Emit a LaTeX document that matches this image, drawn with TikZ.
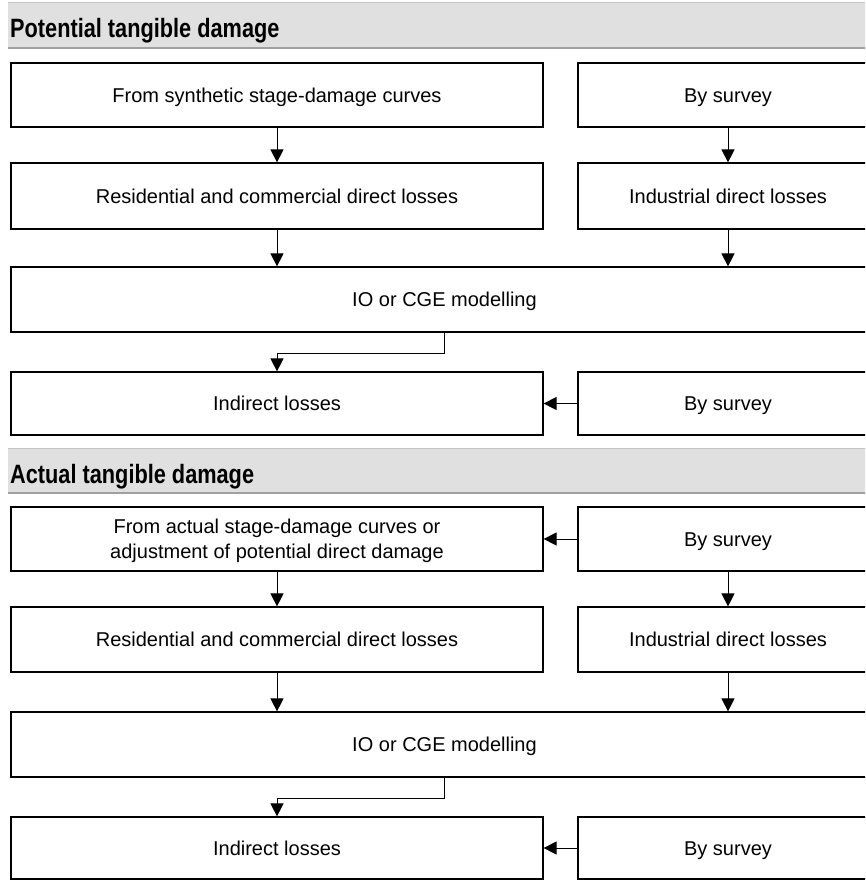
\documentclass[tikz,border=0pt]{standalone}
\usepackage{fontspec}
\setmainfont{Liberation Sans}
\newfontfamily\headfont{Liberation Sans}[FakeStretch=0.82]
\usetikzlibrary{arrows.meta}
\definecolor{bandfill}{HTML}{E0E0E0}
\definecolor{bandtop}{HTML}{C4C4C4}
\definecolor{bandbot}{HTML}{A0A0A0}
\tikzset{
  box/.style={draw=black, line width=1.2pt, rectangle, inner sep=0pt, align=center,
    font=\fontsize{20}{24.5}\selectfont, text height=14.3pt, text depth=0pt},
  lbox/.style={box, minimum width=532pt},
  rbox/.style={box, minimum width=300pt},
  wbox/.style={box, minimum width=867pt},
  conn/.style={line width=1pt, -{Triangle[length=13pt,width=13pt]}},
  head/.style={anchor=base west, inner sep=0pt, font=\headfont\bfseries\fontsize{26.5}{30}\selectfont},
}
\begin{document}
\begin{tikzpicture}[x=1pt,y=-1pt]
\useasboundingbox (0,0) rectangle (865,880);
\clip (0,0) rectangle (865,880);
% section 1 header
\fill[bandfill] (8,3) rectangle (870,48);
\draw[bandtop, line width=1pt] (8,3) -- (870,3);
\draw[bandbot, line width=1.6pt] (8,48) -- (870,48);
\node[head] (h1) at (10,38) {Potential tangible damage};
% section 1 boxes
\node[lbox, minimum height=64pt] (a1) at (277,95) {From synthetic stage-damage curves};
\node[rbox, minimum height=64pt] (b1) at (728,95) {By survey};
\node[lbox, minimum height=66pt] (a2) at (277,196) {Residential and commercial direct losses};
\node[rbox, minimum height=66pt] (b2) at (728,196) {Industrial direct losses};
\node[wbox, minimum height=65pt] (c1) at (444.5,299.5) {IO or CGE modelling};
\node[lbox, minimum height=63pt] (d1) at (277,403.5) {Indirect losses};
\node[rbox, minimum height=63pt] (e1) at (728,403.5) {By survey};
\draw[conn] (a1.south) -- (a2.north);
\draw[conn] (b1.south) -- (b2.north);
\draw[conn] (a2.south) -- (a2.south |- c1.north);
\draw[conn] (b2.south) -- (b2.south |- c1.north);
\draw[conn] (c1.south) -- ++(0,21) -| (d1.north);
\draw[conn] (e1.west) -- (d1.east);
% section 2 header
\fill[bandfill] (8,448) rectangle (870,493);
\draw[bandtop, line width=1pt] (8,448) -- (870,448);
\draw[bandbot, line width=1.6pt] (8,493) -- (870,493);
\node[head] (h2) at (10,483) {Actual tangible damage};
% section 2 boxes
\node[lbox, minimum height=64pt, text height=38.8pt] (a3) at (277,539) {From actual stage-damage curves or\\adjustment of potential direct damage};
\node[rbox, minimum height=64pt] (b3) at (728,539) {By survey};
\node[lbox, minimum height=65pt] (a4) at (277,639.5) {Residential and commercial direct losses};
\node[rbox, minimum height=65pt] (b4) at (728,639.5) {Industrial direct losses};
\node[wbox, minimum height=65pt] (c2) at (444.5,744.5) {IO or CGE modelling};
\node[lbox, minimum height=62pt] (d2) at (277,848) {Indirect losses};
\node[rbox, minimum height=62pt] (e2) at (728,848) {By survey};
\draw[conn] (b3.west) -- (a3.east);
\draw[conn] (a3.south) -- (a4.north);
\draw[conn] (b3.south) -- (b4.north);
\draw[conn] (a4.south) -- (a4.south |- c2.north);
\draw[conn] (b4.south) -- (b4.south |- c2.north);
\draw[conn] (c2.south) -- ++(0,21) -| (d2.north);
\draw[conn] (e2.west) -- (d2.east);
\end{tikzpicture}
\end{document}
